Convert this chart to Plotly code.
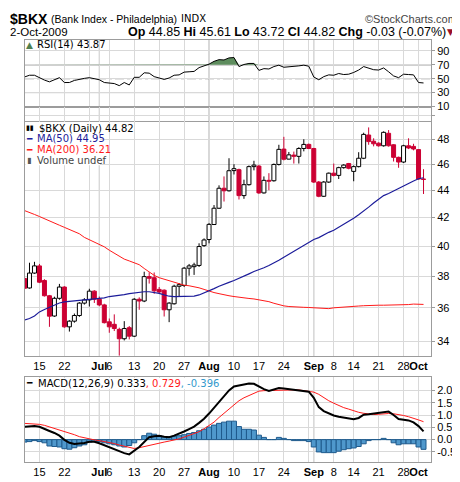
import pandas as pd
import plotly.graph_objects as go

# trading days shown: 10-Jun-2009 .. 2-Oct-2009 (markets shut 3-Jul and 7-Sep)
dates = pd.bdate_range("2009-06-10", "2009-10-02")
dates = dates[~dates.isin(pd.to_datetime(["2009-07-03", "2009-09-07"]))]
pos = list(range(len(dates)))
day_pos = {d.strftime("%Y-%m-%d"): i for i, d in enumerate(dates)}

opens = [
    37.85, 37.24, 38.2, 38.67, 37.72, 36.75, 35.5, 36.59, 37.3, 34.85,
    35.19, 35.53, 36.29, 36.49, 37.04, 36.53, 36.18, 35.15, 35.0, 34.7,
    34.15, 34.8, 34.3, 36.53, 36.42, 37.97, 37.9, 37.15, 37.1, 35.88,
    36.25, 37.35, 37.4, 38.52, 38.62, 38.7, 40.03, 40.45, 41.5, 42.67,
    44.15, 43.96, 45.5, 45.57, 43.6, 44.42, 45.81, 45.85, 43.8, 44.75,
    44.72, 45.98, 47.2, 46.4, 46.72, 46.62, 47.25, 47.58, 47.25, 44.62,
    43.55, 44.62, 45.3, 45.13, 45.73, 46.05, 45.44, 45.81, 46.47, 48.35,
    47.84, 47.68, 47.47, 48.49, 47.55, 46.54, 46.17, 47.47, 47.42, 47.16,
    44.85,
]
highs = [
    38.0, 38.88, 38.94, 38.8, 37.8, 36.8, 36.69, 37.5, 37.35, 35.25,
    35.65, 36.35, 36.6, 37.19, 37.1, 36.7, 36.25, 35.35, 35.6, 34.8,
    35.19, 34.9, 36.6, 36.65, 38.29, 38.25, 38.24, 37.3, 37.15, 36.35,
    37.45, 37.55, 38.6, 38.8, 38.88, 40.19, 40.53, 41.6, 42.9, 44.37,
    45.05, 46.47, 46.0, 45.65, 44.8, 45.9, 46.27, 45.95, 45.05, 45.3,
    46.05, 47.55, 48.2, 46.97, 47.0, 47.35, 48.0, 47.65, 47.3, 44.7,
    44.7, 45.35, 46.05, 45.8, 46.0, 46.1, 45.9, 46.95, 48.54, 48.98,
    48.08, 47.75, 48.65, 48.76, 47.6, 46.6, 47.55, 48.08, 47.63, 47.2,
    45.61,
]
lows = [
    37.1, 37.2, 38.15, 37.55, 36.7, 34.85, 35.45, 36.5, 34.8, 34.57,
    35.1, 35.45, 36.2, 36.08, 36.3, 36.1, 35.05, 34.5, 34.6, 33.18,
    34.05, 34.11, 34.25, 35.88, 36.35, 37.52, 36.87, 36.9, 35.47, 35.13,
    36.2, 36.7, 37.3, 38.03, 38.08, 38.6, 39.95, 40.19, 41.47, 42.62,
    43.16, 43.9, 45.2, 43.31, 43.36, 44.35, 45.52, 43.73, 43.75, 44.0,
    44.65, 45.9, 46.3, 46.38, 46.05, 46.05, 47.02, 47.2, 44.55, 43.48,
    43.5, 44.55, 45.05, 44.85, 45.65, 45.6, 44.68, 45.75, 46.4, 47.55,
    47.42, 47.4, 47.4, 47.4, 46.21, 45.72, 46.1, 47.2, 47.1, 44.8,
    43.72,
]
closes = [
    37.22, 38.2, 38.67, 37.61, 36.75, 35.49, 36.59, 37.3, 34.85, 35.19,
    35.53, 36.29, 36.49, 37.04, 36.53, 36.18, 35.1, 34.85, 34.75, 34.15,
    34.75, 34.3, 36.53, 36.42, 37.97, 37.86, 37.06, 36.99, 35.88, 36.29,
    37.35, 37.45, 38.52, 38.67, 38.73, 39.97, 40.42, 41.51, 42.67, 44.15,
    43.96, 45.49, 45.65, 43.6, 44.42, 45.81, 45.93, 43.8, 44.75, 44.68,
    45.98, 47.18, 46.39, 46.74, 46.62, 47.25, 47.58, 47.25, 44.62, 43.55,
    44.62, 45.3, 45.13, 45.73, 45.93, 45.68, 45.81, 46.47, 48.4, 47.81,
    47.63, 47.47, 48.57, 47.47, 46.54, 46.17, 47.47, 47.29, 47.21, 44.85,
    44.82,
]
ma50 = [
    35.25, 35.35, 35.5, 35.75, 35.9, 36.05, 36.2, 36.3, 36.37, 36.4,
    36.43, 36.45, 36.47, 36.5, 36.53, 36.55, 36.62, 36.7, 36.73, 36.76,
    36.82, 36.88, 36.93, 36.98, 37.0, 37.0, 36.97, 36.9, 36.8, 36.72,
    36.7, 36.7, 36.72, 36.73, 36.73, 36.8, 36.92, 37.05, 37.2, 37.35,
    37.5, 37.6, 37.72, 37.85, 38.0, 38.15, 38.3, 38.4, 38.55, 38.7,
    38.85, 39.05, 39.25, 39.45, 39.65, 39.85, 40.1, 40.3, 40.45, 40.58,
    40.78, 40.95, 41.1, 41.3, 41.5, 41.7, 41.95, 42.2, 42.45, 42.75,
    43.05, 43.35, 43.6, 43.75, 43.95, 44.1, 44.3, 44.5, 44.7, 44.87,
    44.95,
]
ma200 = [
    42.5, 42.38, 42.22, 42.07, 41.9, 41.75, 41.6, 41.45, 41.3, 41.15,
    41.0, 40.85, 40.6, 40.45, 40.25, 40.1, 39.95, 39.72, 39.5, 39.3,
    39.12, 39.0, 38.88, 38.75, 38.5, 38.25, 38.05, 37.9, 37.8, 37.7,
    37.6, 37.5, 37.42, 37.38, 37.33, 37.25, 37.15, 37.03, 36.95, 36.88,
    36.8, 36.75, 36.7, 36.65, 36.62, 36.58, 36.55, 36.5, 36.45, 36.38,
    36.28, 36.18, 36.12, 36.08, 36.05, 36.04, 36.03, 36.02, 36.0, 35.97,
    35.94, 35.95, 36.0, 36.03, 36.05, 36.07, 36.09, 36.11, 36.13, 36.15,
    36.16, 36.16, 36.16, 36.16, 36.16, 36.16, 36.17, 36.2, 36.23, 36.22,
    36.21,
]
rsi = [
    52.5, 55, 55, 51, 48, 45.5, 49, 51.5, 44.5, 44.5,
    47.5, 49.5, 50.5, 51.5, 50, 48.5, 44.5, 44, 43, 40,
    44.5, 41, 52, 52, 58.5, 58, 53, 51, 49, 51,
    55, 55.5, 59.5, 60, 60.5, 66, 68.5, 71, 75, 77.5,
    77, 80, 80.5, 67.5, 70.5, 72, 72, 62, 64.5, 64,
    67.5, 69.5, 66.5, 67, 67, 68.5, 69.5, 68, 52.5, 48.5,
    53, 55.5, 55, 57.5, 56, 56.5, 59, 62.5, 67.5, 65,
    63, 62.5, 65.5, 60, 54, 51.5, 56.5, 56, 55.5, 44.5,
    43.87,
]
macd = [
    0.52, 0.53, 0.55, 0.52, 0.45, 0.35, 0.27, 0.16, -0.01, -0.13,
    -0.18, -0.17, -0.14, -0.09, -0.09, -0.15, -0.23, -0.31, -0.4, -0.48,
    -0.55, -0.6, -0.45, -0.3, -0.1, 0.1, 0.14, 0.16, 0.12, 0.1,
    0.16, 0.23, 0.33, 0.43, 0.53, 0.68, 0.85, 1.06, 1.3, 1.52,
    1.76, 2.0, 2.16, 2.21, 2.26, 2.28, 2.27, 2.15, 2.05, 1.98,
    2.04, 2.1, 2.08, 2.06, 2.03, 2.0, 1.99, 1.95, 1.7, 1.32,
    1.16, 1.06, 0.98, 0.93, 0.89, 0.86, 0.83, 0.88, 1.01, 1.03,
    1.05, 1.07, 1.12, 1.14, 1.0, 0.84, 0.81, 0.78, 0.7, 0.55,
    0.333,
]
signal = [
    0.66, 0.65, 0.64, 0.62, 0.58, 0.52, 0.47, 0.41, 0.34, 0.27,
    0.2, 0.12, 0.07, 0.03, -0.01, -0.04, -0.07, -0.11, -0.16, -0.22,
    -0.27, -0.33, -0.36, -0.33, -0.28, -0.22, -0.17, -0.14, -0.1, -0.06,
    -0.03, 0.03, 0.1, 0.17, 0.24, 0.32, 0.44, 0.56, 0.71, 0.9,
    1.08, 1.25, 1.42, 1.58, 1.7, 1.8, 1.89, 1.97, 1.99, 2.0,
    2.01, 2.02, 2.02, 2.02, 2.02, 2.02, 2.0, 1.98, 1.93, 1.84,
    1.7, 1.58, 1.48, 1.38, 1.3, 1.24, 1.17, 1.11, 1.07, 1.03,
    1.02, 1.03, 1.05, 1.06, 1.05, 1.03, 0.98, 0.93, 0.88, 0.8,
    0.729,
]
hist = [
    -0.1, -0.08, -0.04, -0.08, -0.13, -0.26, -0.28, -0.3, -0.37, -0.39,
    -0.33, -0.26, -0.21, -0.1, -0.08, -0.08, -0.13, -0.17, -0.21, -0.26,
    -0.3, -0.24, -0.13, 0.0, 0.16, 0.26, 0.22, 0.16, 0.12, 0.12,
    0.13, 0.16, 0.2, 0.25, 0.29, 0.36, 0.42, 0.51, 0.59, 0.66,
    0.71, 0.75, 0.75, 0.53, 0.42, 0.42, 0.39, 0.18, 0.09, 0.0,
    0.0, 0.09, 0.05, 0.0, -0.04, -0.04, -0.04, -0.08, -0.3, -0.5,
    -0.53, -0.53, -0.53, -0.47, -0.41, -0.37, -0.34, -0.28, -0.17, -0.04,
    0.0, 0.0, 0.05, 0.0, -0.13, -0.21, -0.17, -0.17, -0.17, -0.3,
    -0.396,
]

tick_dates = [
    "2009-06-15", "2009-06-22", "2009-06-29", "2009-07-01", "2009-07-06",
    "2009-07-13", "2009-07-20", "2009-07-27", "2009-08-03", "2009-08-10",
    "2009-08-17", "2009-08-24", "2009-08-31", "2009-09-01", "2009-09-08",
    "2009-09-14", "2009-09-21", "2009-09-28", "2009-10-01",
]
tick_text = [
    "15", "22", "", "<b>Jul</b>", "6", "13", "20", "27", "<b>Aug</b>", "10",
    "17", "24", "", "<b>Sep</b>", "8", "14", "21", "28", "<b>Oct</b>",
]
month_dates = ["2009-07-01", "2009-08-03", "2009-09-01", "2009-10-01"]
price_ticks = [34, 36, 38, 40, 42, 44, 46, 48, 50]
price_text = ["34", "36", "38", "40", "42", "44", "46", "48", ""]
rsi_ticks = [10, 30, 50, 70, 90]
macd_ticks = [-0.5, 0.0, 0.5, 1.0, 1.5, 2.0]

tick_pos = [day_pos[d] for d in tick_dates]
month_pos = [day_pos[d] for d in month_dates]

GRID = "#d9d9d9"
MONTH = "#a8a8a8"
BORDER = "#9c9c9c"
RED = "#cc0033"
FONT = "Liberation Sans, Arial, sans-serif"
SMALL = "DejaVu Sans, Verdana, sans-serif"

W, H = 460, 482
L, R, T, B = 17, 37, 32, 15


def px(x):
    return (x - L) / (W - L - R)


def py(y):
    return (H - B - y) / (H - T - B)


X_RANGE = [0.1, 81.5]

fig = go.Figure()

# RSI panel
fig.add_trace(go.Scatter(x=pos, y=[70] * len(pos), mode="lines",
                         line=dict(width=0), xaxis="x", yaxis="y",
                         hoverinfo="skip"))
fig.add_trace(go.Scatter(x=pos, y=[max(v, 70) for v in rsi], mode="lines",
                         line=dict(width=0), fill="tonexty",
                         fillcolor="#5e8d5e", xaxis="x", yaxis="y",
                         hoverinfo="skip"))
fig.add_trace(go.Scatter(x=pos, y=rsi, mode="lines",
                         line=dict(color="black", width=1),
                         xaxis="x", yaxis="y"))

# price panel: candle bodies as bars, wicks as line segments
up = [c >= o for o, c in zip(opens, closes)]
body_lo = [min(o, c) for o, c in zip(opens, closes)]
body_hi = [max(o, c) for o, c in zip(opens, closes)]
fig.add_trace(go.Bar(
    x=pos, base=body_lo, y=[h - l for h, l in zip(body_hi, body_lo)],
    width=0.8, xaxis="x2", yaxis="y2",
    marker=dict(color=["white" if u else RED for u in up],
                line=dict(color=["black" if u else RED for u in up],
                          width=1)),
))
for colour, want_up in [("black", True), (RED, False)]:
    wx, wy = [], []
    for i in pos:
        if up[i] != want_up:
            continue
        wx += [i, i, None, i, i, None]
        wy += [highs[i], body_hi[i], None, body_lo[i], lows[i], None]
    fig.add_trace(go.Scatter(x=wx, y=wy, mode="lines",
                             line=dict(color=colour, width=1),
                             xaxis="x2", yaxis="y2"))
fig.add_trace(go.Scatter(x=pos, y=ma200, mode="lines",
                         line=dict(color="#ff1a1a", width=1),
                         xaxis="x2", yaxis="y2"))
fig.add_trace(go.Scatter(x=pos, y=ma50, mode="lines",
                         line=dict(color="#1c1c9a", width=1.2),
                         xaxis="x2", yaxis="y2"))

# MACD panel
fig.add_trace(go.Bar(x=pos, y=hist, width=1,
                     marker=dict(color="#4f98cc",
                                 line=dict(color="#1f5a8c", width=1)),
                     xaxis="x3", yaxis="y3"))
fig.add_trace(go.Scatter(x=pos, y=signal, mode="lines",
                         line=dict(color="#ff1a1a", width=1),
                         xaxis="x3", yaxis="y3"))
fig.add_trace(go.Scatter(x=pos, y=macd, mode="lines",
                         line=dict(color="black", width=2),
                         xaxis="x3", yaxis="y3"))

xbase = dict(range=X_RANGE, tickvals=tick_pos, ticktext=tick_text,
             tickangle=0, showgrid=True, gridcolor=GRID, gridwidth=1,
             zeroline=False, showline=True, mirror=True, linecolor=BORDER,
             ticks="", tickfont=dict(family=FONT, size=11, color="black"))
ybase = dict(side="right", showgrid=True, gridcolor=GRID, zeroline=False,
             showline=True, mirror=True, linecolor=BORDER,
             ticks="outside", ticklen=3, tickcolor=BORDER,
             tickfont=dict(family=FONT, size=11, color="black"))

fig.update_layout(
    width=W, height=H,
    margin=dict(l=L, r=R, t=T, b=B),
    paper_bgcolor="white", plot_bgcolor="white",
    showlegend=False, barmode="overlay",
    xaxis=dict(xbase, anchor="y", showticklabels=False),
    xaxis2=dict(xbase, anchor="y2", matches="x"),
    xaxis3=dict(xbase, anchor="y3", matches="x"),
    yaxis=dict(ybase, domain=[py(101), 1], range=[9.3, 105.8],
               tickvals=rsi_ticks),
    yaxis2=dict(ybase, domain=[py(358), py(101)], type="log",
                range=[1.5204, 1.7052], tickvals=price_ticks,
                ticktext=price_text),
    yaxis3=dict(ybase, domain=[0, py(379)], range=[-0.91, 2.56],
                tickvals=macd_ticks,
                ticktext=[f"{v:.1f}" for v in macd_ticks]),
)

shapes = []
for yref in ["y domain", "y2 domain", "y3 domain"]:
    xref = {"y domain": "x", "y2 domain": "x2", "y3 domain": "x3"}[yref]
    for m in month_pos:
        shapes.append(dict(type="line", xref=xref, yref=yref, x0=m, x1=m,
                           y0=0, y1=1, line=dict(color=MONTH, width=1),
                           layer="below"))
for lvl, dash in [(70, "solid"), (30, "solid"), (50, "dashdot")]:
    shapes.append(dict(type="line", xref="x domain", yref="y", x0=0, x1=1,
                       y0=lvl, y1=lvl, layer="below",
                       line=dict(color="#707070", width=1, dash=dash)))
# separator under the price panel's header strip
shapes.append(dict(type="line", xref="paper", yref="paper", x0=0, x1=1,
                   y0=py(116), y1=py(116), layer="below",
                   line=dict(color=BORDER, width=1)))
# white box behind the price legend
shapes.append(dict(type="rect", xref="paper", yref="paper",
                   x0=px(17.5), x1=px(92), y0=py(161), y1=py(116.6),
                   fillcolor="white", line=dict(width=0), layer="above"))
fig.update_layout(shapes=shapes)


def note(text, x, y, size=10, color="black", family=SMALL, anchor="left",
         bg=None):
    fig.add_annotation(text=text, x=px(x), y=py(y), xref="paper",
                       yref="paper", showarrow=False, xanchor=anchor,
                       yanchor="middle", align=anchor,
                       bgcolor=bg, borderpad=0, borderwidth=0,
                       font=dict(size=size, color=color, family=family))


# header
note("<b>$BKX</b>", 2, 10, size=14, family=FONT)
note("(Bank Index - Philadelphia)", 43, 10, size=10.5, family=FONT)
note("INDX", 173, 10, size=10, family=SMALL)
note("©StockCharts.com", 449, 10, size=11, color="#444", family=FONT,
     anchor="right")
note("2-Oct-2009", 2, 24, size=11.5, family=FONT)
note("<b>Op</b> 44.85 <b>Hi</b> 45.61 <b>Lo</b> 43.72 <b>Cl</b> 44.82 "
     "<b>Chg</b> -0.03 (-0.07%)", 438, 24, size=12.5, family=FONT,
     anchor="right")
note("▼", 439, 24, size=9, color="#99102a", family=SMALL)

# panel legends
note("▲", 18, 37, size=9, color="#4f7f4f")
note("RSI(14) 43.87", 29, 37, size=10)
note("▮▮", 18, 123, size=7)
note("$BKX (Daily) 44.82", 31, 123, size=10)
note("━", 18, 134, size=9, color="#1c1c9a")
note("MA(50) 44.95", 29, 134, size=10, color="#1c1c9a")
note("━", 18, 145, size=9, color="#ff1a1a")
note("MA(200) 36.21", 29, 145, size=10, color="#ff1a1a")
note("▮", 19, 156, size=8, color="#555")
note("Volume undef", 29, 156, size=10, color="#444")
note("━", 18, 386, size=9, color="black")
note("MACD(12,26,9) 0.333<span style='color:#ff1a1a'>, 0.729</span>"
     "<span style='color:#3399cc'>, -0.396</span>",
     30, 386, size=10, bg="white")

fig.write_html("out.html")
